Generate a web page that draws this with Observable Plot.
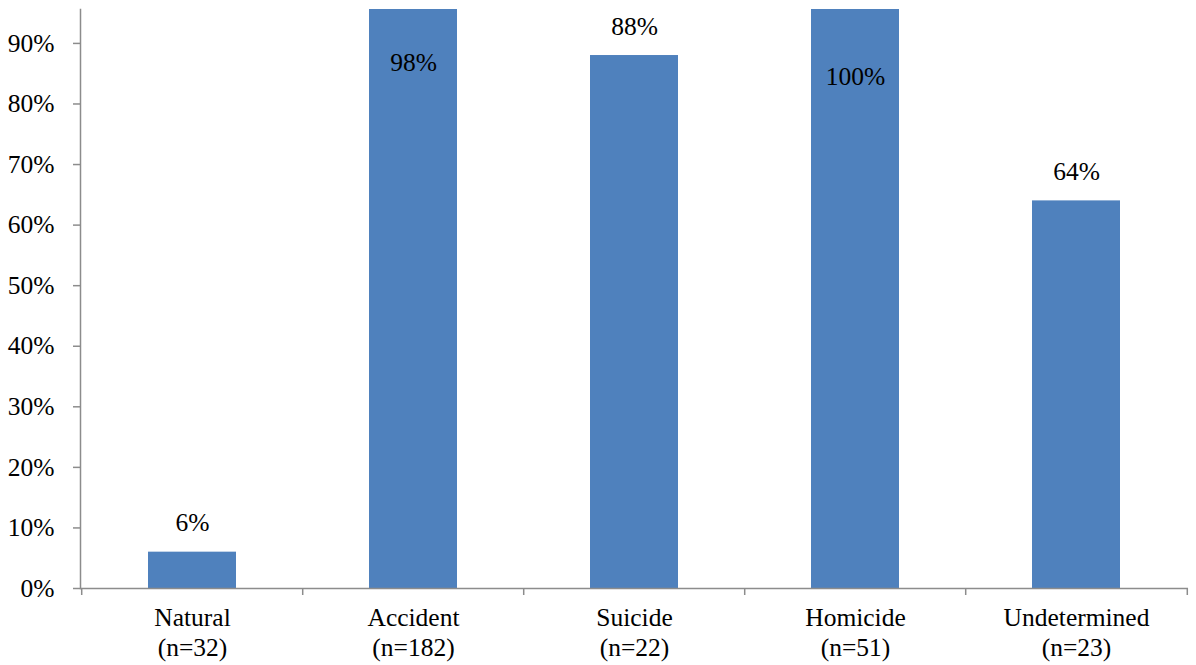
<!DOCTYPE html>
<html>
<head>
<meta charset="utf-8">
<script src="https://cdn.jsdelivr.net/npm/d3@7"></script>
<script src="https://cdn.jsdelivr.net/npm/@observablehq/plot@0.6"></script>
<style>
  html, body { margin: 0; padding: 0; background: #fff; }
  svg text { font-family: "Liberation Serif", "Times New Roman", serif; }
</style>
</head>
<body>
<div id="chart"></div>
<script>
// Manner of death categories, their case counts and the share for each
const categories = ["Natural", "Accident", "Suicide", "Homicide", "Undetermined"];
const counts = [32, 182, 22, 51, 23];
const shares = [0.06, 0.98, 0.88, 1.00, 0.64];
const yTicks = [0, 0.1, 0.2, 0.3, 0.4, 0.5, 0.6, 0.7, 0.8, 0.9];

const rows = categories.map((c, i) => ({category: c, n: counts[i], share: shares[i]}));

const W = 1196, H = 665;
const mL = 80, mR = 8, mT = 9, mB = 77;
const yMax = 0.956;            // visible top of the value axis
const step = (W - mL - mR) / categories.length;
const axisGrey = "#8c8c8c";
const barBlue = "#4f81bd";
const font = "'Liberation Serif', 'Times New Roman', serif";
const fs = 25.5;

const pct = d3.format(".0%");

// Bars that run past the top get their label placed inside the bar
const inside = rows.filter(d => d.share > yMax);
const outside = rows.filter(d => d.share <= yMax);

const chart = Plot.plot({
  width: W,
  height: H,
  marginLeft: mL,
  marginRight: mR,
  marginTop: mT,
  marginBottom: mB,
  style: {fontFamily: font, fontSize: fs + "px", color: "black", background: "white"},
  x: {type: "band", domain: categories, paddingInner: 0.6, paddingOuter: 0.3, label: null},
  y: {domain: [0, yMax], label: null},
  marks: [
    Plot.barY(rows, {x: "category", y: "share", fill: barBlue, clip: true}),
    // value axis line
    Plot.frame({anchor: "left", stroke: axisGrey, strokeWidth: 1.5}),
    // category axis line
    Plot.ruleY([0], {stroke: axisGrey, strokeWidth: 1.5}),
    // category boundary ticks
    Plot.ruleX(categories, {x: d => d, dx: -step / 2, y1: 0, y2: 0, insetBottom: -7, stroke: axisGrey, strokeWidth: 1.5}),
    Plot.ruleX(categories.slice(-1), {x: d => d, dx: step / 2, y1: 0, y2: 0, insetBottom: -7, stroke: axisGrey, strokeWidth: 1.5}),
    Plot.axisY({
      ticks: yTicks,
      tickFormat: pct,
      tickSize: 7,
      tickPadding: 19,
      stroke: axisGrey,
      strokeWidth: 1.5,
      fill: "black",
      fontSize: fs,
      fontFamily: font,
      label: null
    }),
    Plot.axisX({
      tickSize: 0,
      tickPadding: 16,
      tickFormat: (c) => `${c}\n(n=${counts[categories.indexOf(c)]})`,
      lineHeight: 1.18,
      fill: "black",
      fontSize: fs,
      fontFamily: font,
      label: null
    }),
    Plot.text(outside, {x: "category", y: "share", text: d => pct(d.share), dy: -29, fill: "black", fontSize: fs, fontFamily: font}),
    Plot.text(inside, {
      x: "category",
      y: d => yMax - 0.062 - 1.1 * (d.share - yMax),
      text: d => pct(d.share),
      fill: "black",
      fontSize: fs,
      fontFamily: font
    })
  ]
});

document.getElementById("chart").appendChild(chart);
</script>
</body>
</html>
